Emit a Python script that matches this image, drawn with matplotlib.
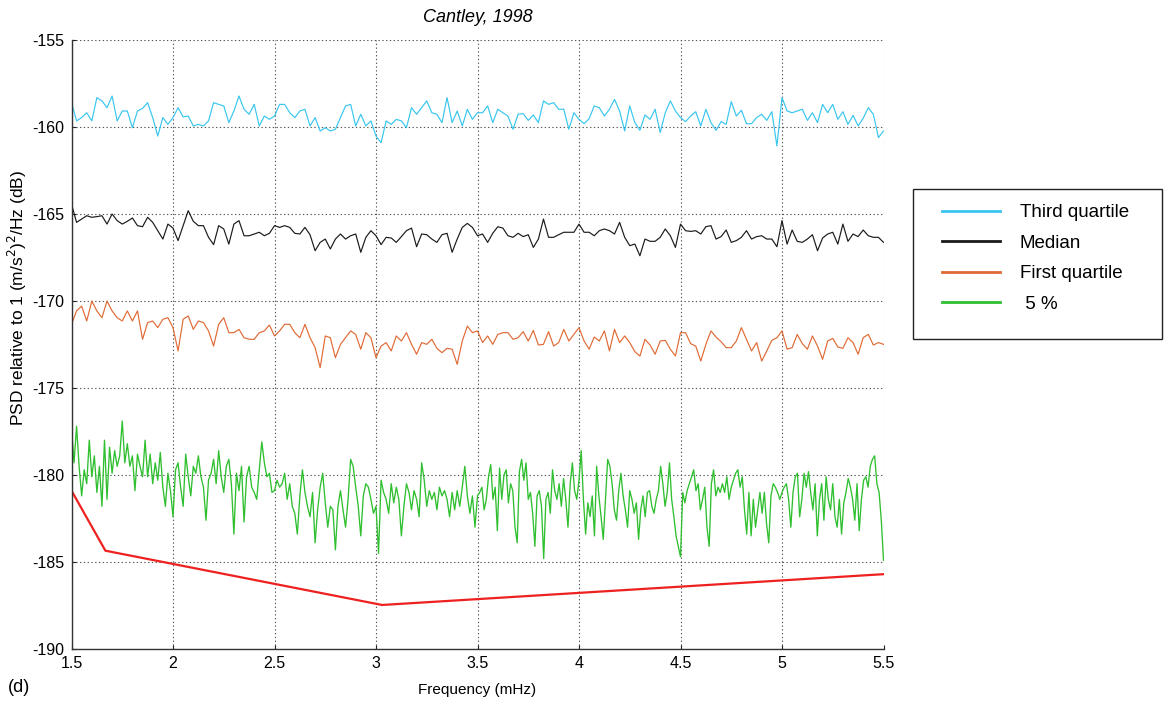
import numpy as np
import matplotlib
matplotlib.use("Agg")
import matplotlib.pyplot as plt
from matplotlib.patches import Rectangle
from matplotlib.lines import Line2D

plt.rcParams['font.family'] = ['Liberation Sans', 'DejaVu Sans']
plt.rcParams['axes.unicode_minus'] = False

# ---------------- data ----------------
x_ticks = [1.5, 2, 2.5, 3, 3.5, 4, 4.5, 5, 5.5]
x_tick_labels = ['1.5', '2', '2.5', '3', '3.5', '4', '4.5', '5', '5.5']
y_ticks = [-190, -185, -180, -175, -170, -165, -160, -155]
series_labels = ['Third quartile', 'Median', 'First quartile', ' 5 %']

# Third quartile (cyan), sampled every 0.025 mHz from 1.5 to 5.5
third_quartile = [
    -158.60, -159.65, -159.46, -159.18, -159.65, -158.31, -158.50, -158.89, -158.22, -159.65,
    -159.08, -159.08, -160.04, -159.08, -158.93, -158.60, -159.46, -160.52, -159.46, -159.85,
    -159.46, -158.89, -159.42, -159.37, -159.94, -159.85, -159.94, -159.65, -158.60, -158.70,
    -158.79, -159.75, -159.08, -158.22, -158.98, -159.27, -158.70, -159.94, -159.37, -159.56,
    -159.37, -158.70, -158.70, -159.18, -159.46, -159.08, -158.98, -159.94, -159.46, -160.23,
    -160.04, -160.23, -160.13, -159.46, -158.79, -158.70, -159.94, -159.27, -159.94, -159.65,
    -160.52, -160.90, -159.65, -159.85, -159.56, -159.65, -160.04, -158.89, -159.27, -158.89,
    -158.50, -159.18, -159.27, -159.75, -158.31, -159.75, -159.08, -159.94, -158.98, -159.56,
    -159.18,
    -159.18, -158.79, -159.75, -158.98, -159.18, -159.37, -160.13, -159.27, -159.23, -159.62,
    -159.31, -159.75, -158.50, -158.70, -158.60, -158.98, -158.98, -160.13, -159.18, -159.56,
    -159.81, -159.52, -158.79, -158.89, -159.37, -158.98, -158.41, -159.08, -160.23, -158.79,
    -159.75, -160.19, -159.31, -159.56, -158.98, -160.32, -159.18, -158.50, -159.08, -159.46,
    -159.69, -159.37, -159.12, -159.94, -158.98, -159.75, -160.19, -159.69, -159.85, -158.54,
    -159.37, -159.04, -159.81, -159.81, -159.46, -159.27, -159.62, -159.12, -161.09, -158.31,
    -159.08, -159.18, -159.08, -158.98, -159.62, -159.18, -159.75, -158.70, -159.18, -158.70,
    -159.56, -159.12, -159.85, -159.33, -159.94, -159.50, -158.89, -159.27, -160.61, -160.23,
]

# Median (black), sampled every 0.025 mHz
median = [
    -164.43, -165.48, -165.29, -165.10, -165.19, -165.15, -165.10, -165.58, -165.00, -165.38,
    -165.58, -165.42, -165.23, -165.67, -165.73, -165.19, -165.48, -165.96, -166.44, -165.58,
    -165.81, -166.53, -165.67, -164.81, -165.42, -165.67, -165.67, -166.34, -166.76, -165.67,
    -165.86, -166.73, -165.58, -165.38, -166.25, -166.25, -166.15, -166.05, -166.25, -166.11,
    -165.67, -165.77, -165.67, -165.77, -166.11, -166.15, -165.77, -166.19, -167.11, -166.63,
    -166.44, -167.01, -166.44, -166.15, -166.44, -166.25, -166.15, -167.20, -166.34, -165.96,
    -166.25, -166.76, -166.34, -166.38, -166.63, -166.30, -165.96, -165.81, -166.88, -166.15,
    -166.19, -166.44, -166.63, -166.19, -166.11, -167.20, -166.44, -165.77, -165.54, -165.77,
    -166.25,
    -166.15, -166.63, -166.11, -165.73, -165.81, -166.25, -166.34, -166.11, -166.30, -166.19,
    -166.92, -166.44, -165.29, -166.34, -166.34, -166.19, -166.05, -166.05, -166.05, -165.58,
    -166.05, -166.05, -166.25, -165.96, -165.86, -165.96, -166.15, -165.48, -166.34, -166.82,
    -166.73, -167.40, -166.44, -166.57, -166.57, -166.34, -165.86, -166.25, -166.92, -165.58,
    -165.96, -166.00, -165.96, -166.15, -165.73, -165.67, -166.44, -166.30, -165.92, -166.63,
    -166.53, -166.34, -165.96, -166.44, -166.30, -166.25, -166.44, -166.44, -166.88, -165.38,
    -166.73, -165.92, -166.57, -166.63, -166.44, -166.19, -167.11, -166.38, -166.15, -166.05,
    -166.73, -165.58, -166.57, -166.15, -166.30, -165.92, -166.25, -166.34, -166.34, -166.63,
]

# First quartile (orange), sampled every 0.025 mHz
first_quartile = [
    -171.34, -170.57, -170.29, -171.15, -170.00, -170.57, -170.96, -170.00, -170.57, -170.96,
    -171.15, -170.57, -171.15, -170.57, -172.20, -171.24, -171.15, -171.53, -171.05, -170.96,
    -171.53, -172.87, -171.05, -170.86, -171.63, -171.15, -171.24, -171.72, -172.59, -171.34,
    -170.96, -171.82, -171.82, -171.63, -172.11, -172.20, -172.20, -171.82, -171.72, -171.38,
    -172.01, -171.72, -171.34, -171.34, -171.82, -172.11, -171.34, -172.11, -172.68, -173.83,
    -172.01, -172.11, -173.26, -172.49, -172.11, -171.72, -171.92, -172.77, -171.82, -172.11,
    -173.26, -172.59, -172.39, -172.87, -172.01, -172.30, -171.82, -172.49, -173.06, -172.39,
    -172.49, -172.20, -172.72, -172.97, -172.72, -172.77, -173.64, -172.30, -171.44, -171.82,
    -171.72,
    -172.39, -172.01, -172.49, -171.92, -171.82, -171.82, -172.20, -172.11, -171.76, -172.30,
    -171.69, -172.53, -172.49, -171.76, -172.59, -172.39, -171.63, -172.30, -171.92, -171.53,
    -172.30, -172.77, -172.07, -172.30, -171.72, -172.87, -171.63, -172.39, -172.01, -172.39,
    -172.91, -173.16, -172.20, -172.53, -173.06, -172.30, -172.26, -172.77, -173.16, -171.82,
    -171.82, -172.45, -172.59, -173.45, -172.49, -171.72, -172.07, -172.34, -172.68, -172.68,
    -172.30, -171.53, -172.20, -172.87, -172.39, -173.45, -172.87, -172.26, -172.11, -171.72,
    -172.77, -172.68, -171.92, -172.45, -172.77, -172.01, -172.59, -173.35, -172.30, -172.15,
    -172.64, -172.72, -172.11, -172.39, -173.06, -172.11, -171.92, -172.53, -172.39, -172.49,
]

# 5 % (green), 1.5-3.5 mHz every 0.0125 mHz
five_percent_low = [
    -177.3, -179.3, -177.2, -179.5, -181.2, -179.7, -180.5, -178.0, -180.1, -178.9,
    -181.0, -179.5, -181.8, -178.0, -181.4, -178.4, -179.9, -178.6, -179.5, -178.9,
    -176.9, -179.3, -178.2, -179.5, -178.9, -180.9, -178.8, -179.5, -180.1, -178.0,
    -180.1, -178.8, -180.5, -179.3, -180.3, -178.7, -180.7, -181.8, -179.9, -180.9,
    -182.4, -179.7, -179.3, -180.7, -181.8, -178.8, -180.1, -181.2, -179.5, -179.9,
    -178.9, -180.1, -180.7, -182.6, -180.3, -179.9, -179.1, -180.5, -178.6, -180.1,
    -181.0, -179.5, -179.1, -180.5, -183.4, -179.9, -180.9, -179.5, -182.7, -180.1,
    -179.5, -180.7, -181.0, -181.4, -179.7, -178.1, -179.3, -180.1, -179.9, -181.0,
    -180.9, -180.3, -180.7, -180.5, -179.9, -181.4, -180.5, -181.8, -182.2, -183.4,
    -181.2, -179.7, -181.0, -181.8, -182.4, -181.0, -183.9, -182.0, -180.7, -179.9,
    -181.6, -183.0, -181.8, -182.0, -184.3, -181.8, -180.9, -182.0, -183.0, -181.4,
    -179.1, -179.5, -180.7, -181.8, -183.5, -181.2, -180.5, -180.7, -181.4, -182.2,
    -181.8, -184.5, -180.3, -181.0, -181.4, -182.2, -180.5, -181.6, -180.7, -181.4,
    -183.5, -181.8, -180.5, -181.0, -182.0, -180.9, -181.4, -182.4, -179.3, -180.3,
    -181.8, -180.9, -181.4, -181.0, -182.0, -180.7, -181.2, -180.9, -181.4, -182.4,
    -181.0, -182.0, -180.9, -181.8, -180.7, -179.5, -181.2, -182.2, -181.2, -183.0,
    -181.2,
]
# 5 % (green), just above 3.5 up to 5.5 mHz
five_percent_high = [
    -181.0, -180.7, -182.0, -181.4, -180.1, -179.4, -181.4, -180.7, -183.2, -179.6,
    -181.4, -180.0, -179.7, -181.6, -180.5, -180.9, -183.0, -183.9, -179.8, -179.1,
    -180.3, -179.3, -181.4, -181.0, -182.2, -184.1, -181.2, -180.9, -181.8, -184.8,
    -181.4, -181.0, -182.2, -179.7, -180.9, -181.4, -180.5, -181.8, -180.2, -181.4,
    -183.0, -180.5, -179.3, -180.9, -181.4, -180.3, -178.6, -181.4, -183.4, -181.6,
    -182.4, -181.2, -183.5, -179.5, -181.2, -182.4, -183.7, -181.4, -179.1, -179.5,
    -180.5, -182.0, -182.6, -180.9, -179.9, -181.2, -182.0, -183.0, -180.9, -181.4,
    -182.2, -181.6, -183.7, -182.0, -181.2, -182.4, -181.0, -180.9, -181.8, -182.2,
    -181.4, -180.9, -179.5, -180.5, -181.8, -181.0, -179.3, -181.4, -182.4, -183.5,
    -184.1, -184.7, -181.0, -181.6, -180.9, -180.5, -180.1, -179.7, -180.9, -180.5,
    -182.0, -181.4, -180.7, -183.0, -184.1, -180.5, -179.7, -181.2, -180.7, -181.0,
    -180.5, -181.0, -180.1, -181.4, -180.7, -180.3, -179.9, -179.7, -180.7, -180.1,
    -182.0, -183.4, -181.0, -183.5, -181.4, -183.0, -182.0, -181.0, -182.2, -181.0,
    -182.8, -183.9, -181.2, -180.5, -180.7, -181.0, -181.4, -181.0, -180.7, -180.5,
    -181.4, -183.0, -181.0, -180.1, -179.9, -182.4, -181.4, -179.9, -180.7, -179.8,
    -181.0, -182.0, -180.5, -183.5, -181.4, -180.5, -182.6, -180.1, -181.4, -182.0,
    -180.5, -182.4, -183.0, -181.4, -183.4, -181.6, -181.0, -180.2, -180.7, -181.4,
    -182.6, -180.5, -183.2, -181.4, -180.3, -180.1, -180.7, -179.5, -179.1, -178.9,
    -180.5, -181.0, -182.6, -184.9,
]

# reference model (red broken line)
model_freq = [1.5, 1.667, 3.03, 5.5]
model_psd = [-180.9, -184.35, -187.47, -185.7]

colors = {
    'third': '#38c6ee',
    'median': '#1a1a1a',
    'first': '#e06a35',
    'five': '#2fbf2f',
    'model': '#ee2020',
}

# ---------------- figure ----------------
W, H = 1167, 701
fig = plt.figure(figsize=(W / 100, H / 100), dpi=100)
ax = fig.add_axes([71.5 / W, 1 - 649 / H, 812 / W, 609 / H])

def grid_freq(vals, f0, f1, include_start=True):
    n = len(vals) if include_start else len(vals) + 1
    f = np.linspace(f0, f1, n)
    return f if include_start else f[1:]

f_third = grid_freq(third_quartile, 1.5, 5.5)
f_median = grid_freq(median, 1.5, 5.5)
f_first = grid_freq(first_quartile, 1.5, 5.5)
f_five = np.concatenate([grid_freq(five_percent_low, 1.5, 3.5),
                         grid_freq(five_percent_high, 3.5, 5.5, include_start=False)])
v_five = five_percent_low + five_percent_high

lw = 0.85
ax.plot(f_third, third_quartile, color=colors['third'], lw=lw)
ax.plot(f_median, median, color=colors['median'], lw=lw)
ax.plot(f_first, first_quartile, color=colors['first'], lw=lw)
ax.plot(f_five, v_five, color=colors['five'], lw=0.95)
ax.plot(model_freq, model_psd, color=colors['model'], lw=1.6)

ax.set_xlim(1.5, 5.5)
ax.set_ylim(-190, -155)
ax.set_xticks(x_ticks)
ax.set_xticklabels(x_tick_labels)
ax.set_yticks(y_ticks)
ax.grid(True, linestyle=(0, (1.2, 2.2)), color='#555555', linewidth=0.8)
ax.set_axisbelow(True)
for s in ['top', 'right']:
    ax.spines[s].set_visible(False)
for s in ['left', 'bottom']:
    ax.spines[s].set_color('#333333')
    ax.spines[s].set_linewidth(1.0)
ax.tick_params(direction='in', length=3, width=0.8, labelsize=11.5, pad=5, colors='#222222')
for lab in ax.get_yticklabels() + ax.get_xticklabels():
    lab.set_color('black')

fig.text(477.5 / W, 1 - 18 / H, 'Cantley, 1998', ha='center', va='center',
         fontsize=13, style='italic')
fig.text(477.5 / W, 1 - 690 / H, 'Frequency (mHz)', ha='center', va='center', fontsize=11)
fig.text(17 / W, 1 - 298 / H, 'PSD relative to 1 (m/s$^2$)$^2$/Hz (dB)', ha='center',
         va='center', rotation=90, fontsize=12.5)
fig.text(8 / W, 1 - 688 / H, '(d)', ha='left', va='center', fontsize=13)

# legend box and entries
fig.patches.append(Rectangle((913 / W, 1 - 339 / H), 249 / W, 150 / H,
                             transform=fig.transFigure, fill=False,
                             edgecolor='#222222', linewidth=1.0))
handles = [Line2D([], [], color=colors[k], lw=2) for k in ['third', 'median', 'first', 'five']]
fig.legend(handles, series_labels, loc='upper left',
           bbox_to_anchor=(942 / W, 1 - 204 / H), bbox_transform=fig.transFigure,
           frameon=False, fontsize=13.5, borderpad=0, borderaxespad=0,
           handlelength=3.1, handletextpad=1.05, labelspacing=0.72)

fig.savefig('out.png', dpi=100)
